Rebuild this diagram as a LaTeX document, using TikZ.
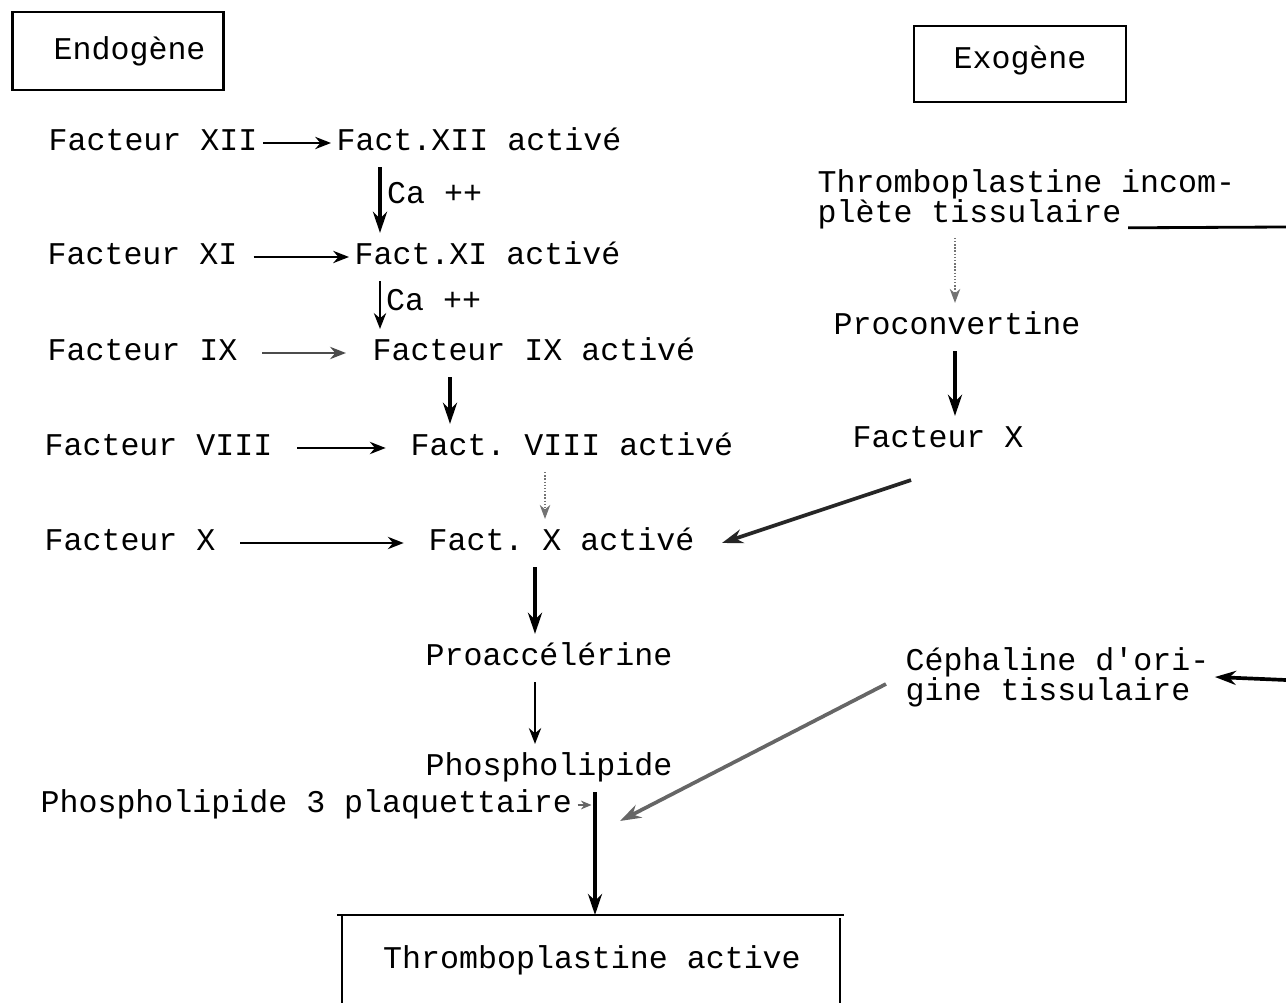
\documentclass[tikz,border=0pt]{standalone}
\usepackage{fontspec}
\setmonofont{Liberation Mono}
\usetikzlibrary{calc,arrows.meta}

\tikzset{
  lbl/.style={anchor=west, inner xsep=3pt, inner ysep=5pt, text height=13pt, text depth=4pt},
  blk/.style={anchor=west, inner xsep=3pt, inner ysep=5pt, align=left},
  kasten/.style={draw, line width=1.4pt, inner sep=0pt},
  arr/.style={-{Stealth[length=9pt,width=7pt]}, line width=1.1pt},
  arrb/.style={-{Stealth[length=12pt,width=8pt]}, line width=2.1pt},
  arrl/.style={-{Stealth[length=8pt,width=6pt]}, line width=0.8pt, black!55, densely dotted}
}

\begin{document}
\begin{tikzpicture}[x=0.02cm,y=-0.02cm,font=\ttfamily\fontsize{18}{17}\selectfont]
\useasboundingbox (0,0) rectangle (1286,1003);

\node[kasten, minimum width=4.22cm, minimum height=1.56cm, text width=3.5cm, align=right] (endo) at (118,51) {Endogène};
\node[kasten, minimum width=4.24cm, minimum height=1.52cm, text depth=8pt] (exo) at (1020,64) {Exogène};

% voie endogene
\node[lbl] (f12)  at (43,143)  {Facteur XII};
\node[lbl] (f12a) at (331,143) {Fact.XII activé};
\node[lbl] (f11)  at (42,257)  {Facteur XI};
\node[lbl] (f11a) at (349,257) {Fact.XI activé};
\node[lbl] (f9)   at (42,353)  {Facteur IX};
\node[lbl] (f9a)  at (367,353) {Facteur IX activé};
\node[lbl] (f8)   at (39,448)  {Facteur VIII};
\node[lbl] (f8a)  at (405,448) {Fact. VIII activé};
\node[lbl] (fx)   at (39,543)  {Facteur X};
\node[lbl] (fxa)  at (423,543) {Fact. X activé};
\node[lbl] (pro)  at (420,658) {Proaccélérine};
\node[lbl] (phl)  at (420,768) {Phospholipide};
\node[lbl] (pl3)  at (35,805)  {Phospholipide 3 plaquettaire};

% voie exogene
\node[blk] (tpi)  at (812,199) {Thromboplastine incom-\\plète tissulaire};
\node[lbl] (prc)  at (828,327) {Proconvertine};
\node[lbl] (fxr)  at (847,440) {Facteur X};
\node[blk] (ceph) at (900,677) {Céphaline d'ori-\\gine tissulaire};

\coordinate (inT) at (1286,227);
\coordinate (inC) at (1286,680);
\coordinate (boxtop) at (595,915);
\coordinate (cephend) at (620,821);

\draw[line width=1.4pt] (342,1003) -- (342,915) (337,915) -- (844,915) (840,918) -- (840,1003);
\node (tpa) at (592,960) {Thromboplastine active};

\draw[arr] (f12) -- (f12a);
\draw[arr, shorten <=6pt] (f11) -- (f11a);
\draw[arr, black!70, shorten <=11pt, shorten >=12pt] (f9) -- (f9a);
\draw[arr, shorten <=11pt, shorten >=11pt] (f8) -- (f8a);
\draw[arr, shorten <=11pt, shorten >=11pt] (fx) -- (fxa);

\draw[arrb] ($(f12a.south west)+(49,0)$) coordinate (t) -- (t |- f11a.north)
  node[pos=0.4, right, inner sep=3pt] {Ca ++};
\draw[arr] ($(f11a.south west)+(31,0)$) coordinate (t) -- (t |- f9a.north)
  node[pos=0.4, right, inner sep=3pt] {Ca ++};
\draw[arrb] ($(f9a.south west)+(83,0)$) coordinate (t) -- (t |- f8a.north);
\draw[arrl] ($(f8a.south west)+(140,0)$) coordinate (t) -- (t |- fxa.north);
\draw[arrb] ($(fxa.south west)+(112,0)$) coordinate (t) -- (t |- pro.north);
\draw[arr] ($(pro.south west)+(115,0)$) coordinate (t) -- (t |- phl.north);
\draw[arrb] ($(phl.south west)+(175,0)$) coordinate (vl) -- (vl |- boxtop);
\draw[-{Stealth[length=6pt,width=5pt]}, line width=0.7pt, black!60, shorten >=2pt] (pl3) -- (pl3 -| vl);

\draw[line width=1.6pt] ($(tpi.south west)+(316,-10)$) -- (inT);
\draw[arrl] ($(tpi.south west)+(143,0)$) coordinate (t) -- (t |- prc.north);
\draw[arrb] ($(prc.south west)+(127,0)$) coordinate (t) -- (t |- fxr.north);
\draw[arrb, black!85] ($(fxr.south)+(-27,16)$) -- ($(fxa.east)+(22,0)$);
\draw[arrb] (inC) -- (ceph.east);
\draw[arrb, black!60] ($(ceph.west)+(-14,7)$) -- (cephend);

\end{tikzpicture}
\end{document}
